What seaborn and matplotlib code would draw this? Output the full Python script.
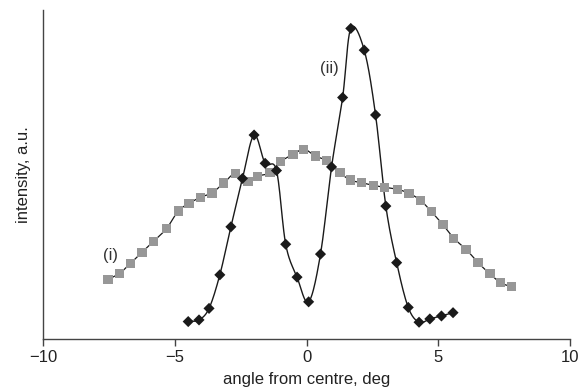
import numpy as np
import pandas as pd
import matplotlib
matplotlib.use("Agg")
import matplotlib.pyplot as plt
import seaborn as sns

#%% Data (angle in deg, intensity in a.u.)
angle_i = [-7.53, -7.09, -6.68, -6.24, -5.82, -5.31, -4.87, -4.46, -4.02, -3.59,
           -3.14, -2.71, -2.22, -1.87, -1.39, -0.99, -0.51, -0.10, 0.33, 0.76,
           1.27, 1.67, 2.09, 2.53, 2.97, 3.44, 3.89, 4.33, 4.74, 5.18,
           5.59, 6.05, 6.51, 6.96, 7.36, 7.78]
intensity_i = [18.1, 20.0, 23.0, 26.4, 29.6, 33.6, 38.9, 41.2, 43.1, 44.4,
               47.4, 50.2, 47.8, 49.5, 50.5, 53.9, 56.1, 57.7, 55.6, 54.2,
               50.5, 48.3, 47.5, 46.7, 46.1, 45.5, 44.3, 42.1, 38.7, 34.7,
               30.6, 27.3, 23.2, 19.8, 17.1, 15.9]

angle_ii = [-4.49, -4.08, -3.70, -3.29, -2.87, -2.43, -1.99, -1.57, -1.14, -0.79,
            -0.36, 0.08, 0.53, 0.95, 1.37, 1.68, 2.19, 2.62, 3.01, 3.42,
            3.86, 4.27, 4.68, 5.12, 5.56]
intensity_ii = [5.3, 5.8, 9.3, 19.5, 34.1, 48.8, 62.0, 53.4, 51.2, 28.8,
                18.8, 11.3, 25.8, 52.3, 73.4, 94.4, 87.8, 68.1, 40.4, 23.2,
                9.6, 5.1, 6.1, 7.0, 8.0]

xticks = [-10, -5, 0, 5, 10]
xtick_labels = ['\u221210', '\u22125', '0', '5', '10']


#%% Smoothed line through the points (Catmull-Rom, like a spreadsheet "smoothed line")
def smooth(x, y, n=20):
    p = np.column_stack([x, y]).astype(float)
    p = np.vstack([2 * p[0] - p[1], p, 2 * p[-1] - p[-2]])
    t = np.linspace(0, 1, n, endpoint=False)[:, None]
    out = []
    for i in range(1, len(p) - 2):
        p0, p1, p2, p3 = p[i - 1], p[i], p[i + 1], p[i + 2]
        seg = 0.5 * ((2 * p1) + (-p0 + p2) * t + (2 * p0 - 5 * p1 + 4 * p2 - p3) * t**2
                     + (-p0 + 3 * p1 - 3 * p2 + p3) * t**3)
        out.append(seg)
    out.append(p[-2][None, :])
    out = np.vstack(out)
    return pd.DataFrame({'angle': out[:, 0], 'intensity': out[:, 1]})


df_i = pd.DataFrame({'angle': angle_i, 'intensity': intensity_i})
df_ii = pd.DataFrame({'angle': angle_ii, 'intensity': intensity_ii})

#%% Plot
sns.set_style("ticks")
plt.rcParams['font.family'] = ['Liberation Sans', 'DejaVu Sans']

fig = plt.figure(figsize=(5.79, 3.92), dpi=100)
ax = fig.add_axes([0.0743, 0.1352, 0.9102, 0.8393])

sns.lineplot(data=smooth(angle_i, intensity_i), x='angle', y='intensity', sort=False,
             color='#1a1a1a', linewidth=0.9, ax=ax, zorder=2)
sns.lineplot(data=smooth(angle_ii, intensity_ii), x='angle', y='intensity', sort=False,
             color='#1a1a1a', linewidth=1.0, ax=ax, zorder=2)
sns.scatterplot(data=df_i, x='angle', y='intensity', marker='s', s=44,
                color='#979797', edgecolor='none', ax=ax, zorder=3)
sns.scatterplot(data=df_ii, x='angle', y='intensity', marker='D', s=32,
                color='#1a1a1a', edgecolor='none', ax=ax, zorder=4)

ax.text(-7.45, 25.3, '(i)', fontsize=12, color='#333333', ha='center', va='center')
ax.text(0.85, 82.3, '(ii)', fontsize=12, color='#333333', ha='center', va='center')

ax.set_xlim(-10, 10)
ax.set_ylim(0, 100)
ax.set_xticks(xticks)
ax.set_xticklabels(xtick_labels)
ax.set_yticks([])
ax.set_xlabel('angle from centre, deg', fontsize=12, color='#222222', labelpad=5)
ax.set_ylabel('intensity, a.u.', fontsize=12, color='#222222', labelpad=9)
ax.tick_params(axis='x', direction='out', length=5, width=1, color='#444444',
               labelsize=12, labelcolor='#222222', pad=3)
for side in ['left', 'bottom']:
    ax.spines[side].set_color('#444444')
    ax.spines[side].set_linewidth(1.0)
sns.despine(ax=ax)

fig.savefig('out.png', dpi=100)
